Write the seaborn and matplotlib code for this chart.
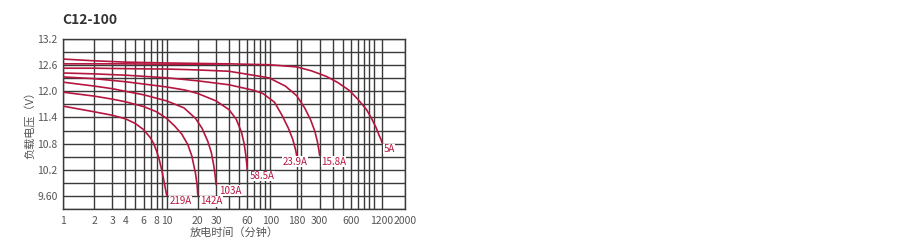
import numpy as np
import pandas as pd
import matplotlib
matplotlib.use("Agg")
import matplotlib.pyplot as plt
import seaborn as sns
from matplotlib.ticker import FixedLocator, FixedFormatter, NullFormatter

# ---- data (minutes, volts) ----
labels = ["219A", "142A", "103A", "58.5A", "23.9A", "15.8A", "5A", ""]
t_219 = [1, 2, 3, 4, 5, 6, 7, 7.5, 8, 8.5, 9, 9.5, 10]
v_219 = [11.66, 11.53, 11.45, 11.37, 11.26, 11.12, 10.93, 10.80, 10.63, 10.43, 10.18, 9.90, 9.62]
t_142 = [1, 2, 3, 4, 6, 8, 10, 12, 14, 16, 17.5, 19, 19.7, 20]
v_142 = [11.98, 11.89, 11.82, 11.76, 11.65, 11.53, 11.38, 11.20, 11.02, 10.78, 10.52, 10.12, 9.85, 9.62]
t_103 = [1, 2, 3, 4, 6, 10, 14.7, 19, 22, 25, 27, 28.5, 29.5, 30]
v_103 = [12.21, 12.12, 12.06, 12.00, 11.92, 11.78, 11.62, 11.38, 11.15, 10.85, 10.60, 10.30, 10.05, 9.86]
t_58 = [1, 2, 4, 10, 15, 20, 30, 40, 47, 53, 56, 58, 59.3, 60]
v_58 = [12.33, 12.29, 12.22, 12.10, 12.03, 11.95, 11.78, 11.58, 11.36, 11.05, 10.80, 10.55, 10.35, 10.20]
t_23 = [1, 2, 4, 10, 15, 20, 40, 70, 85, 110, 130, 150, 165, 176, 180]
v_23 = [12.42, 12.40, 12.37, 12.31, 12.27, 12.24, 12.15, 12.02, 11.95, 11.75, 11.45, 11.15, 10.90, 10.65, 10.53]
t_15 = [1, 2, 4, 10, 15, 20, 40, 97, 140, 180, 215, 245, 270, 285, 295, 300]
v_15 = [12.53, 12.53, 12.52, 12.51, 12.50, 12.49, 12.46, 12.31, 12.12, 11.90, 11.62, 11.35, 11.08, 10.85, 10.65, 10.53]
t_5 = [1, 2, 4, 10, 40, 97, 180, 250, 350, 450, 580, 700, 850, 950, 1050, 1130, 1180, 1200]
v_5 = [12.74, 12.70, 12.67, 12.65, 12.63, 12.61, 12.56, 12.47, 12.34, 12.20, 12.02, 11.82, 11.58, 11.38, 11.17, 10.98, 10.88, 10.82]
t_x = [1, 2, 4, 10, 20, 40]
v_x = [12.63, 12.63, 12.63, 12.62, 12.62, 12.63]

series_t = [t_219, t_142, t_103, t_58, t_23, t_15, t_5, t_x]
series_v = [v_219, v_142, v_103, v_58, v_23, v_15, v_5, v_x]
label_dx = [2, 2, 2, 2, -10, 1, 1, 0]  # label offsets in points

x_major = [1, 2, 3, 4, 6, 8, 10, 20, 30, 60, 100, 180, 300, 600, 1200, 2000]
x_minor = [5, 7, 9, 40, 50, 70, 80, 90, 200, 400, 500, 700, 800, 900, 1000]
y_major = [9.6, 10.2, 10.8, 11.4, 12.0, 12.6, 13.2]
y_major_labels = ["9.60", "10.2", "10.8", "11.4", "12.0", "12.6", "13.2"]
y_minor = [9.3, 9.9, 10.5, 11.1, 11.7, 12.3, 12.9]

rows = []
for i, (ts, vs) in enumerate(zip(series_t, series_v)):
    for t, v in zip(ts, vs):
        rows.append({"curve": i, "t": t, "v": v})
df = pd.DataFrame(rows)

sns.set_theme(style="white")
plt.rcParams["font.family"] = ["Noto Sans CJK SC", "DejaVu Sans"]

RED = "#b5173f"
GRID = "#3a3a3a"
TXT = "#555555"

fig = plt.figure(figsize=(9.21, 2.47), dpi=100)
ax = fig.add_axes([63 / 921, 1 - 209 / 247, (405 - 63) / 921, (209 - 39) / 247])

sns.lineplot(data=df, x="t", y="v", hue="curve", units="curve", estimator=None,
             sort=False, palette={i: RED for i in range(len(series_t))}, legend=False,
             linewidth=1.2, ax=ax, zorder=3)

ax.set_xscale("log")
ax.set_xlim(1, 2000)
ax.set_ylim(9.3, 13.2)

ax.xaxis.set_major_locator(FixedLocator(x_major))
ax.xaxis.set_major_formatter(FixedFormatter([str(x) for x in x_major]))
ax.xaxis.set_minor_locator(FixedLocator(x_minor))
ax.xaxis.set_minor_formatter(NullFormatter())
ax.yaxis.set_major_locator(FixedLocator(y_major))
ax.yaxis.set_major_formatter(FixedFormatter(y_major_labels))
ax.yaxis.set_minor_locator(FixedLocator(y_minor))

ax.grid(True, which="both", color=GRID, linewidth=1.0, zorder=1)
ax.set_axisbelow(True)
ax.tick_params(axis="both", which="both", length=0, labelsize=7.5, labelcolor=TXT)
ax.tick_params(axis="x", pad=5)
ax.tick_params(axis="y", pad=4)
for s in ax.spines.values():
    s.set_color(GRID)
    s.set_linewidth(1.0)

ax.set_xlabel("")
ax.set_ylabel("")
fig.text(234 / 921, 1 - 233 / 247, "放电时间（分钟）", ha="center", va="center",
         fontsize=8, color=TXT)
fig.text(30 / 921, 1 - 122 / 247, "负载电压（V）", ha="center", va="center",
         rotation=90, fontsize=8, color=TXT)
fig.text(62 / 921, 1 - 20 / 247, "C12-100", ha="left", va="center",
         fontsize=10, fontweight="bold", color="#333333")

for lab, ts, vs, dx in zip(labels, series_t, series_v, label_dx):
    if not lab:
        continue
    ax.annotate(lab, xy=(ts[-1], vs[-1]), xytext=(dx, -4.5),
                textcoords="offset points", ha="left", va="center",
                fontsize=7, color=RED, zorder=4,
                bbox=dict(facecolor="white", edgecolor="none", pad=0.3))

fig.savefig("out.png", dpi=100)
